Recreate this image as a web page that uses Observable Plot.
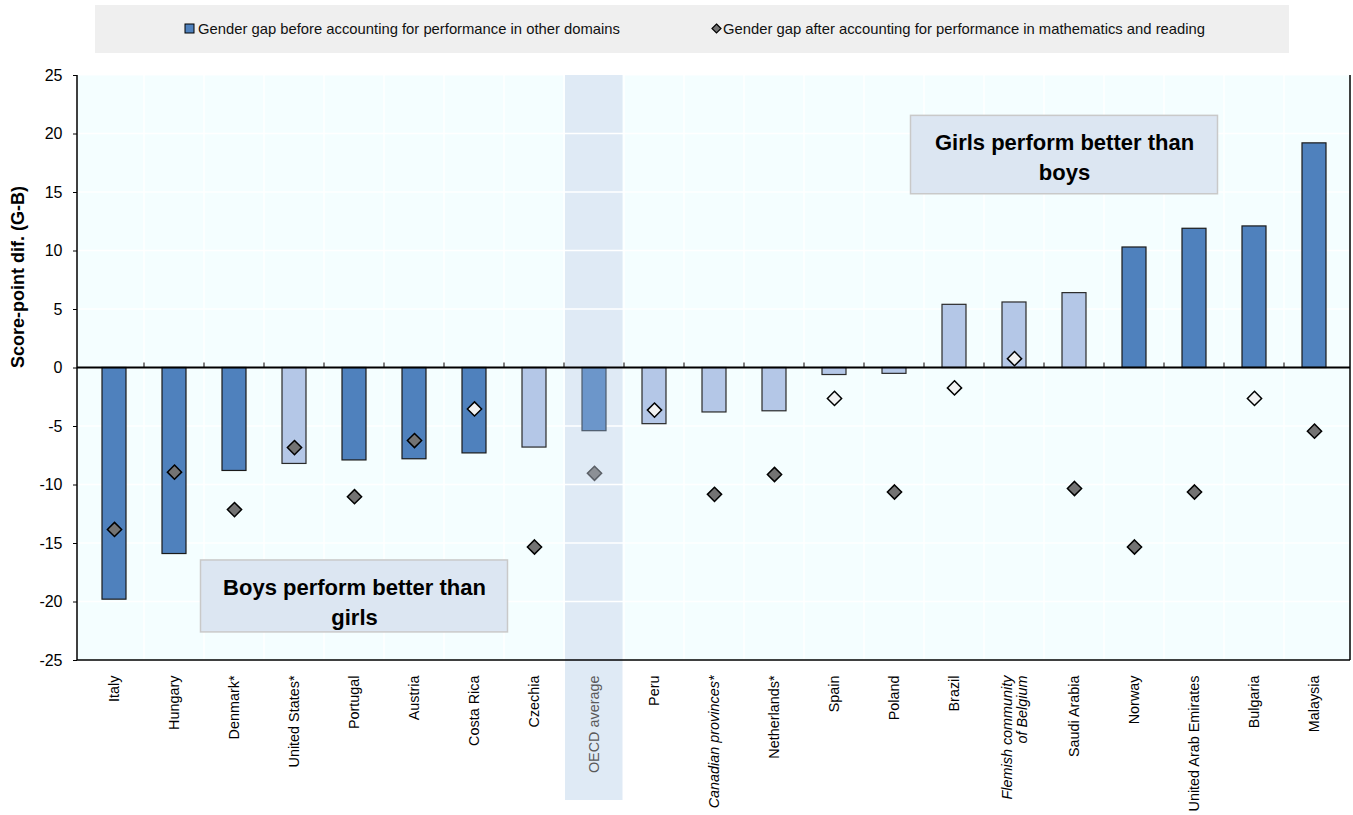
<!DOCTYPE html>
<html>
<head>
<meta charset="utf-8">
<script src="https://cdn.jsdelivr.net/npm/d3@7"></script>
<script src="https://cdn.jsdelivr.net/npm/@observablehq/plot@0.6"></script>
<style>
  body { margin: 0; background: #fff; font-family: "Liberation Sans", Arial, sans-serif; }
  #legend { position: relative; width: 1353px; height: 60px; }
  #legend .box { position: absolute; left: 95px; top: 5px; width: 1194px; height: 48px; background: #efefef; }
  #legend .item { position: absolute; top: 20px; font-size: 14.8px; line-height: 18px; color: #111; white-space: nowrap; }
  #legend .sw { position: absolute; }
</style>
</head>
<body>
<div id="legend">
  <div class="box"></div>
  <svg class="sw" style="left:184px;top:23px" width="12" height="12"><rect x="1" y="1" width="9" height="9" fill="#4F81BD" stroke="#000" stroke-width="1"/></svg>
  <div class="item" style="left:198px">Gender gap before accounting for performance in other domains</div>
  <svg class="sw" style="left:711px;top:23px" width="12" height="12"><path d="M5.5,1 L10,5.5 L5.5,10 L1,5.5 Z" fill="#737373" stroke="#000" stroke-width="1.2"/></svg>
  <div class="item" style="left:723px">Gender gap after accounting for performance in mathematics and reading</div>
</div>
<div id="chart"></div>
<script>
// ---- Data ----
const countries = [
  "Italy", "Hungary", "Denmark*", "United States*", "Portugal", "Austria", "Costa Rica",
  "Czechia", "OECD average", "Peru", "Canadian provinces*", "Netherlands*", "Spain", "Poland",
  "Brazil", "Flemish community\nof Belgium", "Saudi Arabia", "Norway", "United Arab Emirates",
  "Bulgaria", "Malaysia"
];
const gapBefore = [-19.8, -15.9, -8.8, -8.2, -7.9, -7.8, -7.3, -6.8, -5.4, -4.8, -3.8, -3.7, -0.6, -0.5, 5.4, 5.6, 6.4, 10.3, 11.9, 12.1, 19.2];
const gapAfter  = [-13.8, -8.9, -12.1, -6.8, -11.0, -6.2, -3.5, -15.3, -9.0, -3.6, -10.8, -9.1, -2.6, -10.6, -1.7, 0.8, -10.3, -15.3, -10.6, -2.6, -5.4];
// "sig" = statistically significant (dark), "ns" = not significant (light), "avg" = OECD average
const beforeStatus = ["sig","sig","sig","ns","sig","sig","sig","ns","avg","ns","ns","ns","ns","ns","ns","ns","ns","sig","sig","sig","sig"];
const afterStatus  = ["sig","sig","sig","sig","sig","sig","ns","sig","avg","ns","sig","sig","ns","sig","ns","ns","sig","sig","sig","ns","sig"];
const italicLabels = ["Canadian provinces*", "Flemish community\nof Belgium"];
const highlighted = ["OECD average"];
const yTicks = [-25, -20, -15, -10, -5, 0, 5, 10, 15, 20, 25];
const yLabel = "Score-point dif. (G-B)";
const annotationText = ["Girls perform better than\nboys", "Boys perform better than\ngirls"];
const annotationAnchor = ["Saudi Arabia", "Portugal"];
const annotationLow = [14.85, -22.6];
const annotationHigh = [21.55, -16.45];
const annotationMid = [18.2, -19.85];
const annotationShift = [-10, 0];

// ---- Build table ----
const data = countries.map((c, i) => ({
  country: c, before: gapBefore[i], after: gapAfter[i],
  bStatus: beforeStatus[i], aStatus: afterStatus[i]
}));
const annotations = annotationText.map((t, i) => ({
  text: t, anchor: annotationAnchor[i], y1: annotationLow[i], y2: annotationHigh[i],
  ym: annotationMid[i], dx: annotationShift[i]
}));

const barFill = {sig: "#4F81BD", ns: "#B4C7E7", avg: "#6C96CA"};
const barStroke = {sig: "#1a1a1a", ns: "#2a2a2a", avg: "#4e5b6b"};
const dotFill = {sig: "#737373", ns: "#F2F2F2", avg: "#8C9096"};
const dotStroke = {sig: "#000", ns: "#000", avg: "#5a5f66"};

function gridMark(index, scales, values, dims) {
  const {x, y} = scales;
  const x0 = dims.marginLeft, x1 = dims.width - dims.marginRight;
  const y0 = dims.marginTop, y1 = dims.height - dims.marginBottom;
  const g = d3.create("svg:g").attr("stroke", "#ffffff").attr("stroke-width", 1.5);
  yTicks.slice(1, -1).forEach(t => g.append("line").attr("x1", x0).attr("x2", x1).attr("y1", y(t)).attr("y2", y(t)));
  countries.slice(1).forEach(c => g.append("line").attr("x1", x(c)).attr("x2", x(c)).attr("y1", y0).attr("y2", y1));
  return g.node();
}

function axisLines(index, scales, values, dims) {
  const {x, y} = scales;
  const x0 = dims.marginLeft, x1 = dims.width - dims.marginRight;
  const y0 = dims.marginTop, y1 = dims.height - dims.marginBottom;
  const g = d3.create("svg:g").attr("stroke", "#000");
  const z = y(0);
  countries.slice(1).forEach(c => g.append("line").attr("x1", x(c)).attr("x2", x(c)).attr("y1", z - 5).attr("y2", z).attr("stroke-width", 1));
  g.append("line").attr("x1", x0).attr("x2", x1).attr("y1", z).attr("y2", z).attr("stroke-width", 2);
  g.append("line").attr("x1", x0).attr("x2", x1).attr("y1", y1).attr("y2", y1).attr("stroke-width", 1.5);
  g.append("line").attr("x1", x0).attr("x2", x0).attr("y1", y0).attr("y2", y1).attr("stroke-width", 1.5);
  g.append("line").attr("x1", x1).attr("x2", x1).attr("y1", y0).attr("y2", y1).attr("stroke-width", 1.5);
  return g.node();
}

const font = "'Liberation Sans', Arial, sans-serif";

const chart = Plot.plot({
  width: 1353,
  height: 755,
  marginTop: 15,
  marginBottom: 155,
  marginLeft: 77,
  marginRight: 3,
  style: {fontFamily: font, fontSize: "16px", color: "#000", background: "transparent", overflow: "visible"},
  x: {type: "band", domain: countries, padding: 0, axis: null},
  y: {domain: [-25, 25], ticks: yTicks, tickSize: 4, tickPadding: 11, tickFormat: d => `${d}`, label: null},
  marks: [
    Plot.frame({fill: "#F4FEFF", stroke: null}),
    Plot.barY(highlighted, {x: d => d, y1: -25, y2: 25, fill: "#DFEAF5", insetLeft: 1, insetRight: 1.5, insetBottom: -140}),
    gridMark,
    ...["sig", "ns", "avg"].map(s => Plot.barY(data.filter(d => d.bStatus === s), {
      x: "country", y: "before", fill: barFill[s], stroke: barStroke[s], strokeWidth: 1.2,
      insetLeft: 18, insetRight: 18
    })),
    axisLines,
    ...["sig", "ns", "avg"].map(s => Plot.dot(data.filter(d => d.aStatus === s), {
      x: "country", y: "after", symbol: "diamond2", r: 6.4, fill: dotFill[s], stroke: dotStroke[s], strokeWidth: 1.5
    })),
    Plot.barY(annotations, {x: "anchor", y1: "y1", y2: "y2", fill: "#DCE6F2", stroke: "#C9C9C9", strokeWidth: 1.5, insetLeft: -123.5, insetRight: -123.5, render: (I, s, v, d, c, next) => {
      const g = next(I, s, v, d, c);
      d3.select(g).selectAll("rect").attr("transform", (_, k) => `translate(${annotations[I[k]].dx},0)`);
      return g;
    }}),
    ...annotations.map(a => Plot.text([a], {x: "anchor", y: "ym", text: "text", dx: a.dx, fontSize: 22, fontWeight: "bold", lineHeight: 1.4, fill: "#000", fontFamily: font})),
    Plot.text(countries.filter(c => !italicLabels.includes(c) && !highlighted.includes(c)), {
      x: d => d, frameAnchor: "bottom", dy: 15, rotate: -90, textAnchor: "end", lineAnchor: "middle", fontSize: 14.4, fill: "#000", fontFamily: font
    }),
    Plot.text(highlighted, {
      x: d => d, frameAnchor: "bottom", dy: 15, rotate: -90, textAnchor: "end", lineAnchor: "middle", fontSize: 14.4, fill: "#595959", fontFamily: font
    }),
    Plot.text(italicLabels, {
      x: d => d, frameAnchor: "bottom", dy: 15, rotate: -90, textAnchor: "end", lineAnchor: "middle", fontSize: 14.4, fill: "#000", fontStyle: "italic", lineHeight: 1.05, fontFamily: font
    }),
    Plot.text([yLabel], {frameAnchor: "left", dx: -59, rotate: -90, fontSize: 18, fontWeight: "bold", fill: "#000", fontFamily: font})
  ]
});
document.getElementById("chart").appendChild(chart);
</script>
</body>
</html>
